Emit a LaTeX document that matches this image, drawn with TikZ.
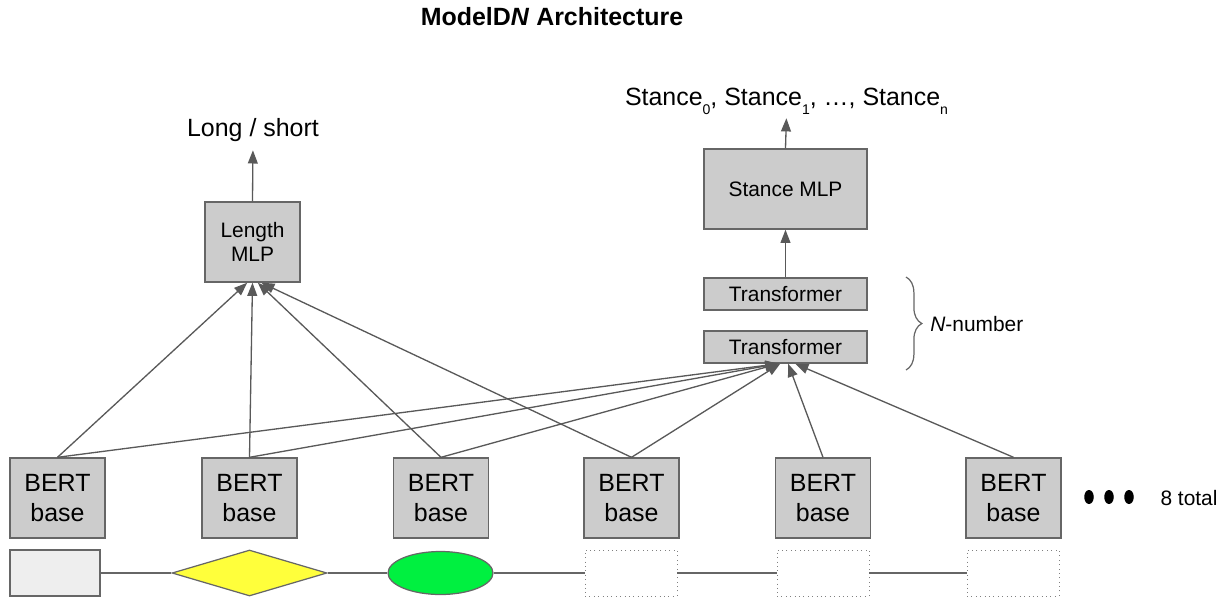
\documentclass[tikz,border=0pt]{standalone}
\usepackage{fontspec}
\setmainfont{Liberation Sans}
\usetikzlibrary{shapes.geometric,arrows.meta,decorations.pathreplacing}
\definecolor{boxgray}{HTML}{CCCCCC}
\definecolor{linegray}{HTML}{595959}
\definecolor{edgegray}{HTML}{666666}
\definecolor{lightbox}{HTML}{EEEEEE}
\definecolor{hiyellow}{HTML}{FFFF3B}
\definecolor{higreen}{HTML}{00F040}
\newcommand{\lowidx}[1]{\raisebox{-0.7ex}{\fontsize{8pt}{8pt}\selectfont #1}}

\begin{document}
\begin{tikzpicture}
  [x=0.02cm, y=-0.02cm,
   every node/.style={inner sep=0pt, font=\fontsize{14.2pt}{16.8pt}\selectfont},
   small/.style={font=\fontsize{11.9pt}{13.6pt}\selectfont},
   box/.style={draw=edgegray, fill=boxgray, line width=0.8pt, align=center},
   bert/.style={box, minimum width=1.9cm, minimum height=1.6cm},
   arr/.style={draw=linegray, line width=0.75pt, -{Triangle[length=7.5pt,width=5.6pt]}},
   link/.style={draw=edgegray, line width=0.7pt},
   slot/.style={draw=gray, dotted, line width=0.5pt, minimum width=1.84cm, minimum height=0.92cm}]

  \useasboundingbox (0,0) rectangle (1225,606);
  \node[font={\fontsize{14.2pt}{16pt}\selectfont\bfseries}] (title) at (552,17) {ModelD\textit{N} Architecture};

  \node[bert] (b1) at (57.5,498) {BERT\\base};
  \node[bert] (b2) at (249.5,498) {BERT\\base};
  \node[bert] (b3) at (441,498) {BERT\\base};
  \node[bert] (b4) at (631.5,498) {BERT\\base};
  \node[bert] (b5) at (823,498) {BERT\\base};
  \node[bert] (b6) at (1013.5,498) {BERT\\base};

  \node[ellipse, fill=black, minimum width=0.19cm, minimum height=0.28cm] (dot1) at (1089,497) {};
  \node[ellipse, fill=black, minimum width=0.19cm, minimum height=0.28cm] (dot2) at (1109,497) {};
  \node[ellipse, fill=black, minimum width=0.19cm, minimum height=0.28cm] (dot3) at (1129,497) {};
  \node[small] (total) at (1189,498) {8 total};

  \node[draw=edgegray, fill=lightbox, line width=0.7pt, minimum width=1.8cm, minimum height=0.92cm] (r1) at (55,573) {};
  \node[diamond, draw=edgegray, fill=hiyellow, line width=0.7pt, minimum width=3.1cm, minimum height=0.92cm] (d2) at (249.5,573) {};
  \node[ellipse, draw=edgegray, fill=higreen, line width=0.7pt, minimum width=2.1cm, minimum height=0.86cm] (e3) at (440.5,573) {};
  \node[slot] (s4) at (631,573) {};
  \node[slot] (s5) at (823,573) {};
  \node[slot] (s6) at (1013,573) {};
  \draw[link] (r1) -- (d2) -- (e3) -- (s4) -- (s5) -- (s6);

  \node[box, small, minimum width=1.9cm, minimum height=1.6cm] (lmlp) at (252.5,242) {Length\\MLP};
  \node[anchor=base] (lsout) at (253,136) {Long / short};
  \draw[arr, shorten >=5pt] (lmlp.north) -- (lsout.south);

  \node[box, small, minimum width=3.26cm, minimum height=1.6cm] (smlp) at (785.5,189) {Stance MLP};
  \node[box, small, minimum width=3.26cm, minimum height=0.64cm] (tr1) at (785.5,294) {Transformer};
  \node[box, small, minimum width=3.26cm, minimum height=0.64cm] (tr2) at (785.5,347) {Transformer};
  \node[anchor=base] (stout) at (786.5,105) {Stance\lowidx{0}, Stance\lowidx{1}, …, Stance\lowidx{n}};
  \draw[arr, shorten >=2pt] (smlp.north) -- (stout.south);
  \draw[arr] (tr1) -- (smlp);

  \draw[arr] (b1.north) -- ([xshift=-3pt]lmlp.south);
  \draw[arr] (b2.north) -- (lmlp.south);
  \draw[arr] (b3.north) -- ([xshift=3pt]lmlp.south);
  \draw[arr] (b4.north) -- ([xshift=5pt]lmlp.south);

  \draw[arr] (b1.north) -- ([xshift=-4pt]tr2.south);
  \draw[arr] (b2.north) -- ([xshift=-4pt]tr2.south);
  \draw[arr] (b3.north) -- ([xshift=-4pt]tr2.south);
  \draw[arr] (b4.north) -- ([xshift=-3pt]tr2.south);
  \draw[arr] (b5.north) -- ([xshift=1.5pt]tr2.south);
  \draw[arr] (b6.north) -- ([xshift=5.5pt]tr2.south);

  \coordinate (brtop) at (906,277);
  \coordinate (brbot) at (906,370);
  \draw[edgegray, line width=0.7pt, decorate, decoration={brace, amplitude=9pt}] (brtop) -- (brbot);
  \node[small, anchor=west] (nnum) at (930,324) {\textit{N}-number};
\end{tikzpicture}
\end{document}
